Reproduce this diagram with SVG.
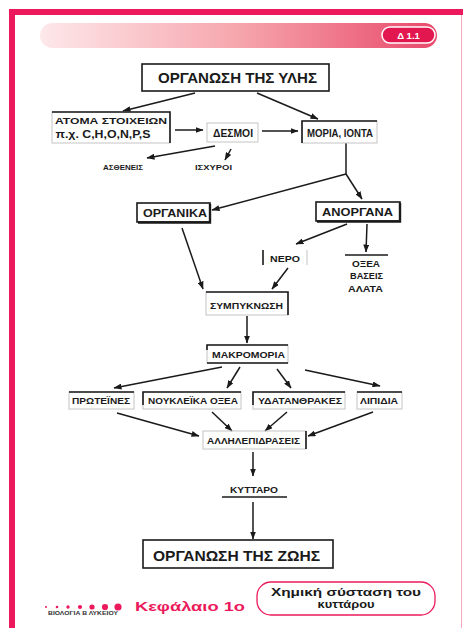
<svg xmlns="http://www.w3.org/2000/svg" width="463" height="628" viewBox="0 0 463 628">
<defs>
<linearGradient id="bar" x1="0" y1="0" x2="1" y2="0">
<stop offset="0" stop-color="#fde8ea"/>
<stop offset="0.5" stop-color="#f6a6ad"/>
<stop offset="1" stop-color="#e8486b"/>
</linearGradient>
<marker id="ah" markerUnits="userSpaceOnUse" markerWidth="8" markerHeight="6" refX="7.5" refY="3" orient="auto">
<path d="M0,0 L8,3 L0,6 z" fill="#1a1a1a"/>
</marker>
<style>
.t{font-family:"Liberation Sans",Arial,sans-serif;font-weight:bold;fill:#1a1a1a;text-anchor:middle}
.dk{stroke:#1a1a1a;stroke-width:1.6;fill:none}
.lt{stroke:#c4c4c4;stroke-width:1;fill:none}
.c line,.c polyline{stroke:#1a1a1a;stroke-width:1.5;fill:none}
.ar{marker-end:url(#ah)}
.pk{fill:#ec1a5c}
</style>
</defs>
<rect width="463" height="628" fill="#ffffff"/>
<!-- frame -->
<path d="M9,628 V9 H463 V15 H15 V628 z" class="pk"/>
<line x1="461.5" y1="15" x2="461.5" y2="628" stroke="#f7a8bd" stroke-width="1"/>
<!-- header bar -->
<rect x="40" y="23" width="397" height="25" rx="12.5" fill="url(#bar)"/>
<g id="badge">
<rect x="382" y="27" width="53" height="16" rx="8" fill="#e3174f" stroke="#ffffff" stroke-width="1.5"/>
<text x="408.5" y="39" font-family="Liberation Sans,Arial,sans-serif" font-weight="bold" font-size="9.5" fill="#ffffff" text-anchor="middle">Δ 1.1</text>
</g>

<g id="connectors" class="c">
<line class="ar" x1="195" y1="93" x2="123" y2="111"/>
<line class="ar" x1="257" y1="93" x2="318" y2="119"/>
<line class="ar" x1="175" y1="130" x2="203" y2="130"/>
<line class="ar" x1="262" y1="131" x2="298" y2="131"/>
<line class="ar" x1="215" y1="146" x2="147" y2="158"/>
<line class="ar" x1="231" y1="149" x2="225" y2="160"/>
<line x1="346" y1="143" x2="346" y2="174"/>
<line class="ar" x1="346" y1="174" x2="212" y2="210"/>
<line class="ar" x1="346" y1="174" x2="362" y2="199"/>
<line class="ar" x1="347" y1="224" x2="296" y2="244"/>
<line class="ar" x1="367" y1="224" x2="366" y2="252"/>
<line class="ar" x1="182" y1="228" x2="203" y2="289"/>
<line class="ar" x1="288" y1="268" x2="272" y2="289"/>
<line class="ar" x1="247" y1="316" x2="247" y2="343"/>
<line class="ar" x1="222" y1="367" x2="114" y2="388"/>
<line class="ar" x1="240" y1="367" x2="227" y2="388"/>
<line class="ar" x1="277" y1="369" x2="291" y2="388"/>
<line class="ar" x1="305" y1="370" x2="380" y2="386"/>
<line class="ar" x1="117" y1="413" x2="199" y2="436"/>
<line class="ar" x1="212" y1="412" x2="232" y2="431"/>
<line class="ar" x1="287" y1="412" x2="265" y2="431"/>
<line class="ar" x1="373" y1="412" x2="308" y2="436"/>
<line class="ar" x1="253" y1="452" x2="253" y2="476"/>
<line class="ar" x1="253" y1="502" x2="253" y2="539"/>
</g>

<g id="n-organosi-ylis">
<rect x="142" y="64" width="187" height="27" class="dk"/>
<text class="t" x="237.5" y="82.5" font-size="14" textLength="159" lengthAdjust="spacingAndGlyphs">ΟΡΓΑΝΩΣΗ ΤΗΣ ΥΛΗΣ</text>
</g>
<g id="n-atoma">
<rect x="52" y="112" width="118" height="31" class="lt"/>
<path d="M52,112 H170 V143" class="dk"/>
<text class="t" x="111" y="124" font-size="9" textLength="112" lengthAdjust="spacingAndGlyphs">ΑΤΟΜΑ ΣΤΟΙΧΕΙΩΝ</text>
<text class="t" x="103" y="138" font-size="10" textLength="95" lengthAdjust="spacingAndGlyphs">π.χ. C,H,O,N,P,S</text>
</g>
<g id="n-desmoi">
<rect x="207" y="123" width="51" height="19" class="lt"/>
<text class="t" x="233" y="136.5" font-size="10" textLength="40" lengthAdjust="spacingAndGlyphs">ΔΕΣΜΟΙ</text>
</g>
<g id="n-moria">
<rect x="302" y="121" width="75" height="22" class="lt"/>
<path d="M302,143 V121 H377" class="dk"/>
<text class="t" x="340" y="136.5" font-size="10" textLength="66" lengthAdjust="spacingAndGlyphs">ΜΟΡΙΑ, ΙΟΝΤΑ</text>
</g>
<g id="n-astheneis">
<text class="t" x="123" y="169.5" font-size="7.5" textLength="40" lengthAdjust="spacingAndGlyphs">ΑΣΘΕΝΕΙΣ</text>
</g>
<g id="n-ischyroi">
<text class="t" x="213.5" y="169.5" font-size="7.5" textLength="37" lengthAdjust="spacingAndGlyphs">ΙΣΧΥΡΟΙ</text>
</g>
<g id="n-organika">
<rect x="137" y="203" width="73" height="19" class="dk"/>
<path d="M210,204 V222.5 H138" stroke="#1a1a1a" stroke-width="2.4" fill="none"/>
<text class="t" x="175" y="217" font-size="10.5" textLength="64" lengthAdjust="spacingAndGlyphs">ΟΡΓΑΝΙΚΑ</text>
</g>
<g id="n-anorgana">
<rect x="316" y="202" width="84" height="19" class="dk"/>
<path d="M400,203 V221.5 H317" stroke="#1a1a1a" stroke-width="2.4" fill="none"/>
<text class="t" x="357.5" y="216" font-size="10.5" textLength="71" lengthAdjust="spacingAndGlyphs">ΑΝΟΡΓΑΝΑ</text>
</g>
<g id="n-nero">
<line x1="263" y1="250" x2="263" y2="265" class="dk"/>
<line x1="307" y1="250" x2="307" y2="265" class="lt"/>
<text class="t" x="285" y="261.5" font-size="8.5" textLength="30" lengthAdjust="spacingAndGlyphs">ΝΕΡΟ</text>
</g>
<g id="n-oxea">
<line x1="345" y1="255" x2="388" y2="255" class="dk"/>
<text class="t" x="366" y="266.5" font-size="8.5" textLength="28" lengthAdjust="spacingAndGlyphs">ΟΞΕΑ</text>
<text class="t" x="366.5" y="278.5" font-size="8.5" textLength="33" lengthAdjust="spacingAndGlyphs">ΒΑΣΕΙΣ</text>
<text class="t" x="365.5" y="291.5" font-size="8.5" textLength="35" lengthAdjust="spacingAndGlyphs">ΑΛΑΤΑ</text>
</g>
<g id="n-sympyknosi">
<rect x="206" y="292" width="82" height="23" class="lt"/>
<path d="M206,292 H288 V315" class="dk"/>
<text class="t" x="246.5" y="308.5" font-size="8.5" textLength="73" lengthAdjust="spacingAndGlyphs">ΣΥΜΠΥΚΝΩΣΗ</text>
</g>
<g id="n-makromoria">
<rect x="207" y="345" width="81" height="18" class="lt"/>
<path d="M207,350 V345 H288 M207,363 H288" class="dk"/>
<text class="t" x="248.5" y="357.5" font-size="8.5" textLength="73" lengthAdjust="spacingAndGlyphs">ΜΑΚΡΟΜΟΡΙΑ</text>
</g>
<g id="n-proteines">
<rect x="69" y="392" width="65" height="17" class="lt"/>
<line x1="69" y1="392" x2="134" y2="392" class="dk"/>
<text class="t" x="101" y="403.5" font-size="8.5" textLength="58" lengthAdjust="spacingAndGlyphs">ΠΡΩΤΕΪΝΕΣ</text>
</g>
<g id="n-noukleika">
<rect x="143" y="392" width="98" height="17" class="lt"/>
<path d="M143,405 V392 H241" class="dk"/>
<text class="t" x="193" y="403.5" font-size="8.5" textLength="90" lengthAdjust="spacingAndGlyphs">ΝΟΥΚΛΕΪΚΑ ΟΞΕΑ</text>
</g>
<g id="n-ydatanthrakes">
<rect x="253" y="392" width="92" height="17" class="lt"/>
<path d="M253,405 V392 H345" class="dk"/>
<text class="t" x="300" y="403.5" font-size="8.5" textLength="84" lengthAdjust="spacingAndGlyphs">ΥΔΑΤΑΝΘΡΑΚΕΣ</text>
</g>
<g id="n-lipidia">
<rect x="357" y="392" width="45" height="17" class="lt"/>
<line x1="357" y1="392" x2="402" y2="392" class="dk"/>
<text class="t" x="379" y="403.5" font-size="8.5" textLength="38" lengthAdjust="spacingAndGlyphs">ΛΙΠΙΔΙΑ</text>
</g>
<g id="n-allilepidraseis">
<rect x="203" y="431" width="103" height="18" class="lt"/>
<line x1="306" y1="431" x2="306" y2="449" class="dk"/>
<text class="t" x="253.5" y="443.5" font-size="8.5" textLength="93" lengthAdjust="spacingAndGlyphs">ΑΛΛΗΛΕΠΙΔΡΑΣΕΙΣ</text>
</g>
<g id="n-kyttaro">
<line x1="222" y1="497" x2="287" y2="497" class="dk"/>
<text class="t" x="254" y="492.5" font-size="8.5" textLength="48" lengthAdjust="spacingAndGlyphs">ΚΥΤΤΑΡΟ</text>
</g>
<g id="n-organosi-zois">
<rect x="143" y="540" width="190" height="28" class="dk" stroke-width="1.3"/>
<text class="t" x="236.5" y="560.5" font-size="14" textLength="167" lengthAdjust="spacingAndGlyphs">ΟΡΓΑΝΩΣΗ ΤΗΣ ΖΩΗΣ</text>
</g>

<!-- footer -->
<g id="footer">
<circle cx="46" cy="607" r="1" class="pk"/>
<circle cx="57" cy="607" r="1.3" class="pk"/>
<circle cx="68" cy="607" r="1.7" class="pk"/>
<circle cx="80" cy="607" r="2.1" class="pk"/>
<circle cx="92" cy="607" r="2.6" class="pk"/>
<circle cx="105" cy="607" r="3.1" class="pk"/>
<circle cx="118" cy="607" r="3.6" class="pk"/>
<text x="48" y="615" font-family="Liberation Sans,Arial,sans-serif" font-weight="bold" font-size="4.5" fill="#333" textLength="70" lengthAdjust="spacingAndGlyphs">ΒΙΟΛΟΓΙΑ Β ΛΥΚΕΙΟΥ</text>
<text x="135" y="611" font-family="Liberation Sans,Arial,sans-serif" font-weight="bold" font-size="12" fill="#ec1a5c" textLength="110" lengthAdjust="spacingAndGlyphs">Κεφάλαιο 1ο</text>
<rect x="257" y="582" width="178" height="33" rx="14" fill="#ffffff" stroke="#ec1a5c" stroke-width="1.3"/>
<text x="346" y="596" font-family="Liberation Sans,Arial,sans-serif" font-weight="bold" font-size="10.5" fill="#1a1a1a" text-anchor="middle" textLength="150" lengthAdjust="spacingAndGlyphs">Χημική σύσταση του</text>
<text x="346" y="608" font-family="Liberation Sans,Arial,sans-serif" font-weight="bold" font-size="10.5" fill="#1a1a1a" text-anchor="middle" textLength="57" lengthAdjust="spacingAndGlyphs">κυττάρου</text>
</g>
</svg>
